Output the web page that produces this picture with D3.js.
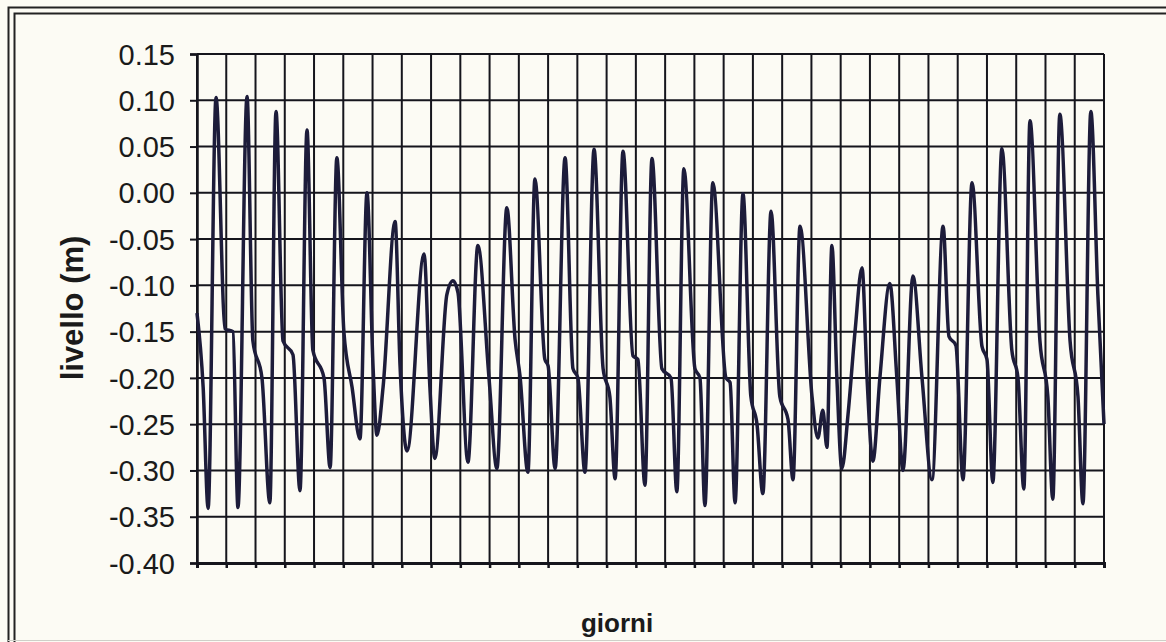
<!DOCTYPE html>
<html>
<head>
<meta charset="utf-8">
<script src="https://d3js.org/d3.v7.min.js"></script>
<style>
  body { margin: 0; background: #fcfbf4; }
  svg { display: block; font-family: "Liberation Sans", Arial, sans-serif; }
</style>
</head>
<body>
<svg width="1166" height="642"></svg>
<script>

// tide level turning points (time in days, level in m)
var tDay = [
  0, 0.21, 0.38, 0.65, 0.96, 1.23, 1.40, 1.71, 1.91, 2.22,
  2.49, 2.70, 2.94, 3.28, 3.52, 3.76, 3.96, 4.34, 4.55, 4.78,
  5.02, 5.30, 5.57, 5.81, 6.02, 6.15, 6.36, 6.77, 6.94, 7.18,
  7.76, 7.96, 8.13, 8.54, 8.75, 8.92, 9.26, 9.60, 9.98, 10.25,
  10.59, 10.87, 11.04, 11.31, 11.55, 11.89, 12.00, 12.24, 12.58, 12.85,
  13.02, 13.26, 13.57, 13.88, 14.11, 14.29, 14.56, 14.90, 15.07, 15.31,
  15.55, 15.89, 16.20, 16.40, 16.64, 17.02, 17.19, 17.36, 17.63, 18.08,
  18.22, 18.39, 18.66, 18.93, 19.14, 19.34, 19.62, 19.92, 20.20, 20.37,
  20.61, 21.02, 21.22, 21.39, 21.53, 21.70, 21.87, 22.04, 22.25, 22.49,
  22.73, 22.90, 23.10, 23.34, 23.68, 23.92, 24.13, 24.47, 24.78, 25.12,
  25.50, 25.70, 25.94, 26.18, 26.49, 26.83, 27.00, 27.20, 27.51, 27.85,
  28.06, 28.26, 28.47, 28.81, 29.08, 29.25, 29.49, 29.84, 30.11, 30.28,
  30.55, 30.79, 31.00
];
var level = [
  -0.13, -0.21, -0.341, 0.103, -0.147, -0.15, -0.340, 0.104, -0.16, -0.20,
  -0.335, 0.088, -0.16, -0.175, -0.322, 0.068, -0.17, -0.20, -0.297, 0.038,
  -0.15, -0.21, -0.266, 0.000, -0.19, -0.262, -0.21, -0.031, -0.187, -0.279,
  -0.066, -0.21, -0.287, -0.11, -0.095, -0.108, -0.291, -0.057, -0.20, -0.298,
  -0.016, -0.158, -0.198, -0.302, 0.015, -0.18, -0.187, -0.298, 0.038, -0.19,
  -0.20, -0.302, 0.047, -0.19, -0.22, -0.309, 0.045, -0.176, -0.18, -0.316,
  0.037, -0.19, -0.20, -0.323, 0.026, -0.19, -0.20, -0.338, 0.011, -0.20,
  -0.205, -0.335, -0.001, -0.22, -0.25, -0.325, -0.02, -0.22, -0.245, -0.31,
  -0.036, -0.22, -0.265, -0.235, -0.275, -0.057, -0.20, -0.298, -0.24, -0.15,
  -0.081, -0.20, -0.29, -0.20, -0.098, -0.20, -0.30, -0.09, -0.20, -0.31,
  -0.036, -0.155, -0.165, -0.31, 0.011, -0.166, -0.18, -0.313, 0.048, -0.17,
  -0.20, -0.32, 0.078, -0.16, -0.22, -0.331, 0.085, -0.16, -0.22, -0.336,
  0.088, -0.11, -0.25
];
var dayLines = d3.range(0, 32);
var yTicks = [0.15, 0.10, 0.05, 0.00, -0.05, -0.10, -0.15, -0.20, -0.25, -0.30, -0.35, -0.40];

var svg = d3.select("svg"),
    margin = {top: 54, right: 62, bottom: 79, left: 197},
    width = +svg.attr("width") - margin.left - margin.right,
    height = +svg.attr("height") - margin.top - margin.bottom;

// scanned page frame (double rule, right and bottom cut off by the scan)
svg.append("rect").attr("x", 8.5).attr("y", 7.5).attr("width", 1170).attr("height", 660)
    .attr("fill", "none").attr("stroke", "#222").attr("stroke-width", 2);
svg.append("rect").attr("x", 14.5).attr("y", 13.5).attr("width", 1170).attr("height", 660)
    .attr("fill", "none").attr("stroke", "#222").attr("stroke-width", 2);
svg.append("line").attr("x1", 8).attr("x2", 1166).attr("y1", 640.5).attr("y2", 640.5)
    .attr("stroke", "#cfcfc8").attr("stroke-width", 1);

var g = svg.append("g").attr("transform", "translate(" + margin.left + "," + margin.top + ")");

var x = d3.scaleLinear().domain([0, 31]).range([0, width]);
var y = d3.scaleLinear().domain([-0.40, 0.15]).range([height, 0]);

// grid
g.append("g").selectAll("line").data(yTicks).enter().append("line")
    .attr("x1", 0).attr("x2", width)
    .attr("y1", function(d) { return y(d); }).attr("y2", function(d) { return y(d); })
    .attr("stroke", "#15151c").attr("stroke-width", 2);
g.append("g").selectAll("line").data(dayLines).enter().append("line")
    .attr("x1", function(d) { return x(d); }).attr("x2", function(d) { return x(d); })
    .attr("y1", 0).attr("y2", height)
    .attr("stroke", "#15151c").attr("stroke-width", 2);

// axes
var yAxis = g.append("g")
    .call(d3.axisLeft(y).tickValues(yTicks).tickSize(7).tickPadding(15)
      .tickFormat(function(d) { return d.toFixed(2); }));
yAxis.select(".domain").attr("stroke", "#15151c").attr("stroke-width", 2.5);
yAxis.selectAll(".tick line").attr("stroke", "#15151c").attr("stroke-width", 2);
yAxis.selectAll("text").attr("fill", "#1a1a1a").style("font-size", "29px").attr("dy", "0.35em");

var xAxis = g.append("g")
    .attr("transform", "translate(0," + height + ")")
    .call(d3.axisBottom(x).tickValues(dayLines).tickSize(5).tickFormat(""));
xAxis.select(".domain").attr("stroke", "#15151c").attr("stroke-width", 3);
xAxis.selectAll(".tick line").attr("stroke", "#15151c").attr("stroke-width", 2.5);

// series
var line = d3.line()
    .curve(d3.curveMonotoneX)
    .x(function(d, i) { return x(tDay[i]); })
    .y(function(d) { return y(d); });

g.append("path")
    .datum(level)
    .attr("fill", "none")
    .attr("stroke", "#1d1c3a")
    .attr("stroke-width", 3.5)
    .attr("stroke-linejoin", "round")
    .attr("d", line);

// titles
svg.append("text")
    .attr("transform", "translate(83,308) rotate(-90)")
    .attr("text-anchor", "middle")
    .attr("fill", "#1a1a1a")
    .style("font-size", "31px").style("font-weight", "bold")
    .text("livello (m)");

svg.append("text")
    .attr("x", 617).attr("y", 632)
    .attr("text-anchor", "middle")
    .attr("fill", "#1a1a1a")
    .style("font-size", "26px").style("font-weight", "bold")
    .text("giorni");

</script>
</body>
</html>
